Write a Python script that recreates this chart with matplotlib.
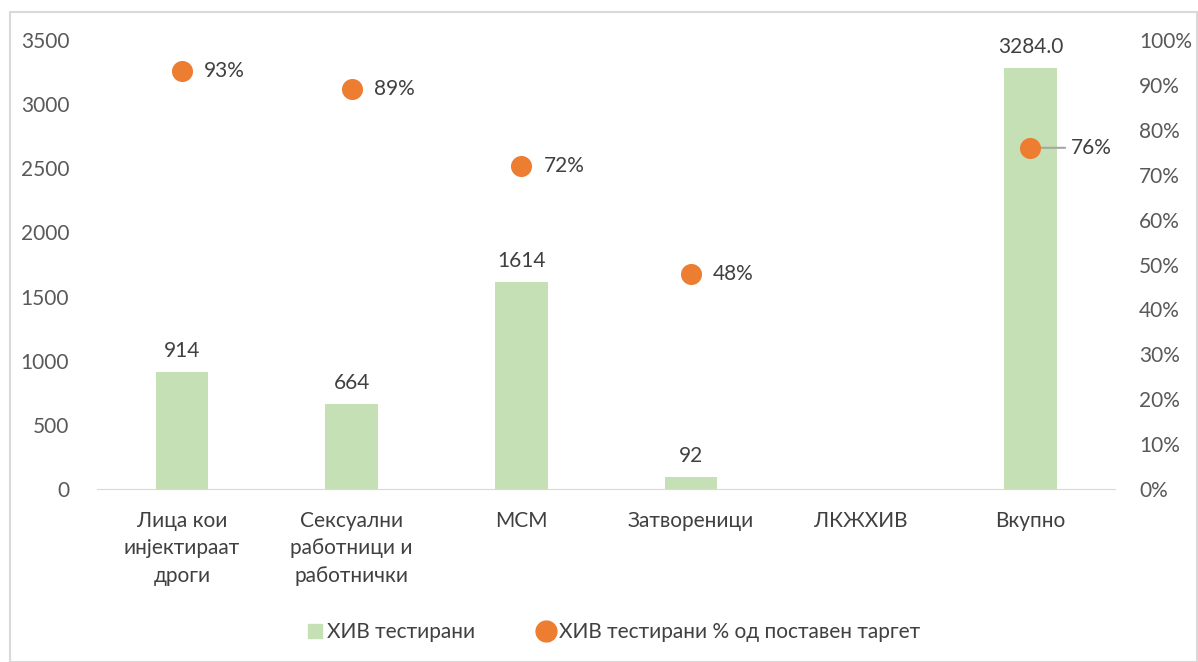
import matplotlib
matplotlib.use('Agg')
import matplotlib.pyplot as plt
from matplotlib.patches import Rectangle
from matplotlib.lines import Line2D

plt.rcParams['font.family'] = ['Lato', 'Open Sans', 'DejaVu Sans']

categories = ['Лица кои\nинјектираат\nдроги', 'Сексуални\nработници и\nработнички',
              'МСМ', 'Затвореници', 'ЛКЖХИВ', 'Вкупно']
tested = [914, 664, 1614, 92, 0, 3284]
tested_labels = ['914', '664', '1614', '92', '', '3284.0']
pct_target = [0.93, 0.89, 0.72, 0.48, None, 0.76]
pct_labels = ['93%', '89%', '72%', '48%', '', '76%']

GREEN = '#c5e0b4'
ORANGE = '#ed7d31'
TXT = '#595959'
LBL = '#404040'
FS = 15

fig = plt.figure(figsize=(11.98, 6.62), dpi=100)
ax = fig.add_axes([0.081, 0.2613, 0.850, 0.6782])
ax2 = ax.twinx()

x = list(range(len(categories)))
ax.bar(x, tested, width=0.31, color=GREEN, zorder=2)
ax.set_xlim(-0.5, len(categories) - 0.5)
ax.set_ylim(0, 3500)
ax.set_yticks(range(0, 3501, 500))
ax2.set_ylim(0, 1.0)
ax2.set_yticks([i / 10 for i in range(11)])
ax2.set_yticklabels([f'{i * 10}%' for i in range(11)])

for a in (ax, ax2):
    for s in a.spines.values():
        s.set_visible(False)
    a.tick_params(length=0, labelsize=FS, labelcolor=TXT)
ax.spines['bottom'].set_visible(True)
ax.spines['bottom'].set_color('#d9d9d9')
ax.tick_params(axis='y', pad=20)
ax2.tick_params(axis='y', pad=17)
ax.set_xticks(x)
ax.set_xticklabels(categories, fontsize=FS, color=LBL, linespacing=1.45)
ax.tick_params(axis='x', pad=16)

for xi, v, lab in zip(x, tested, tested_labels):
    if lab:
        ax.annotate(lab, (xi, v), xytext=(0, 8), textcoords='offset points',
                    ha='center', va='bottom', fontsize=FS, color=LBL)

px = [xi for xi, p in zip(x, pct_target) if p is not None]
py = [p for p in pct_target if p is not None]
ax2.scatter(px, py, s=230, color=ORANGE, zorder=5, linewidths=0)
for xi, p, lab in zip(x, pct_target, pct_labels):
    if p is None:
        continue
    if xi == len(categories) - 1:
        ax2.annotate(lab, (xi, p), xytext=(29, 0), textcoords='offset points',
                     ha='left', va='center', fontsize=FS, color=LBL,
                     arrowprops=dict(arrowstyle='-', color='#a6a6a6', lw=1.5,
                                     shrinkA=2, shrinkB=0))
    else:
        ax2.annotate(lab, (xi, p), xytext=(16, 0), textcoords='offset points',
                     ha='left', va='center', fontsize=FS, color=LBL)

handles = [Line2D([], [], marker='s', linestyle='', color=GREEN, markersize=10),
           Line2D([], [], marker='o', linestyle='', color=ORANGE, markersize=15)]
fig.legend(handles, ['ХИВ тестирани', 'ХИВ тестирани % од поставен таргет'],
           loc='center', bbox_to_anchor=(0.51, 0.045), ncol=2, frameon=False,
           fontsize=FS, labelcolor=LBL, handletextpad=0.0, handlelength=1.2,
           columnspacing=2.8)

fig.patches.append(Rectangle((10 / 1198, 0.0), 1 - 11 / 1198, 1 - 12 / 662,
                             transform=fig.transFigure, fill=False,
                             edgecolor='#d9d9d9', lw=1.5))

fig.savefig('out.png', dpi=100)
